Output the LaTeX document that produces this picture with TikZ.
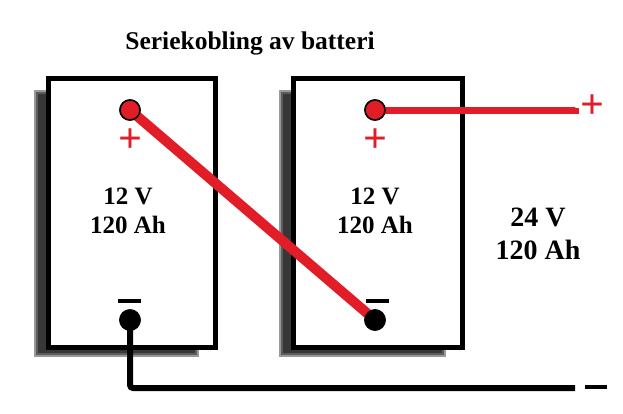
\documentclass[tikz,border=0pt]{standalone}
\usepackage{fontspec}
\setmainfont{Liberation Serif}
\definecolor{wred}{RGB}{225,30,40}
\begin{document}
\begin{tikzpicture}[x=1pt,y=-1pt,
  batt/.style={draw=black,line width=5pt,fill=white},
  shad/.style={fill=black,opacity=0.4},
  term/.style={circle,draw=black,line width=1.5pt,minimum size=20pt,inner sep=0pt},
  lbl/.style={font=\bfseries\fontsize{25}{29}\selectfont,align=center},
  sign/.style={text=wred,font=\bfseries\fontsize{42}{42}\selectfont,inner sep=0pt}]
\useasboundingbox (0,0) rectangle (623,413);
\node[font=\bfseries\fontsize{25.5}{29}\selectfont] (title) at (250,43) {Seriekobling av batteri};
\foreach \d in {0,2,4}{
  \fill[shad] (34+\d,90+\d) rectangle (199-\d,357-\d);
  \fill[shad] (279+\d,90+\d) rectangle (446-\d,357-\d);}
\draw[batt] (48,78) rectangle (215,347);
\draw[batt] (293,78) rectangle (462,347);
\node[lbl] (l1) at (128,211) {12 V\\120 Ah};
\node[lbl] (l2) at (375,211) {12 V\\120 Ah};
\node[lbl,font=\bfseries\fontsize{28}{33}\selectfont] (tot) at (538,234) {24 V\\120 Ah};
\coordinate (pout) at (575,108);
\coordinate (nout) at (575,388);
\coordinate (c1) at (130,388);
\node[term,fill=wred] (lp) at (130,110) {};
\node[term,fill=wred] (rp) at (375,110) {};
\node[term,fill=black] (ln) at (130,320) {};
\node[term,fill=black] (rn) at (375,320) {};
\draw[wred,line width=7pt] (rp.center) -- (rp.center -| pout) -- (pout);
\draw[black,line width=6pt,rounded corners=3pt] (ln.center) -- (c1) -- (nout);
\draw[wred,line width=10pt] (lp.center) -- (rn.center);
\node[term,fill=wred] at (lp) {};
\node[term,fill=black] at (rn) {};
\node[term,fill=wred] at (rp) {};
\node[term,fill=black] at (ln) {};
\node[sign] (lps) at (130,141) {+};
\node[sign] (rps) at (375,141) {+};
\node[sign] (ops) at (592,107) {+};
\fill[black] (118,299) rectangle (141,303);
\fill[black] (366,299) rectangle (389,303);
\fill[black] (585,385) rectangle (607,389);
\end{tikzpicture}
\end{document}
